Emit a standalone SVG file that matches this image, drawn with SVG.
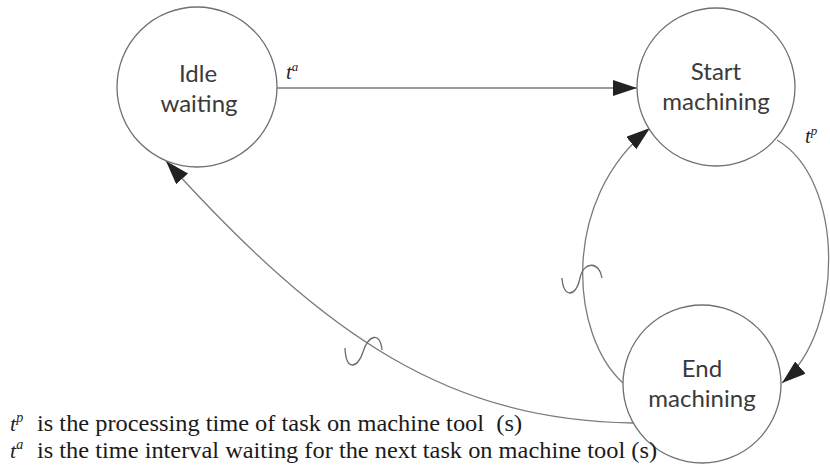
<svg xmlns="http://www.w3.org/2000/svg" width="830" height="468" viewBox="0 0 830 468">
<style>
  .node { fill: #ffffff; stroke: #707070; stroke-width: 1.3; }
  .lbl { font-family: Lato, "Open Sans", "Liberation Sans", sans-serif; font-size: 24px; fill: #3a3a3a; text-anchor: middle; }
  .conn { fill: none; stroke: #7a7a7a; stroke-width: 1.3; }
  .sq { fill: none; stroke: #6a6a6a; stroke-width: 1.3; }
  .math { font-family: "Liberation Serif", "Times New Roman", serif; font-style: italic; fill: #222; }
  .leg { font-family: "Liberation Serif", "Times New Roman", serif; font-size: 24px; fill: #1a1a1a; }
</style>
<defs>
  <marker id="arr" markerUnits="userSpaceOnUse" markerWidth="26" markerHeight="18" refX="24" refY="8" orient="auto">
    <path d="M0,0 L24,8 L0,16 Z" fill="#222"/>
  </marker>
</defs>
<rect width="830" height="468" fill="#ffffff"/>
<g id="connectors">
  <path class="conn" d="M277,88 L637,88" marker-end="url(#arr)"/>
  <path class="conn" d="M777,140 C845,180 845,330 782,383" marker-end="url(#arr)"/>
  <path class="conn" d="M623,383 C570,335 560,200 650,128" marker-end="url(#arr)"/>
  <path class="conn" d="M633,423 C450,420 328,340 166,161" marker-end="url(#arr)"/>
  <path class="sq" d="M345,348 C346,372 358,368 363,352 C368,336 380,330 382,350"/>
  <path class="sq" d="M562,278 C563,298 576,298 580,278 C584,260 600,262 602,278"/>
  <text class="math" x="286" y="79" font-size="21">t<tspan dy="-8" font-size="13">a</tspan></text>
  <text class="math" x="805" y="143" font-size="21">t<tspan dy="-8" font-size="13">p</tspan></text>
</g>
<g id="idle">
  <circle class="node" cx="197" cy="87" r="80"/>
  <text class="lbl" x="198" y="82">Idle</text>
  <text class="lbl" x="199" y="112">waiting</text>
</g>
<g id="start">
  <circle class="node" cx="716" cy="87" r="79"/>
  <text class="lbl" x="716" y="80">Start</text>
  <text class="lbl" x="716" y="110">machining</text>
</g>
<g id="end">
  <circle class="node" cx="702" cy="384" r="79"/>
  <text class="lbl" x="702" y="377">End</text>
  <text class="lbl" x="702" y="407">machining</text>
</g>
<g id="legend">
  <text class="math" x="10" y="431" font-size="22">t<tspan dy="-9" font-size="14">p</tspan></text>
  <text class="leg" x="37" y="431" xml:space="preserve" textLength="485" lengthAdjust="spacingAndGlyphs">is the processing time of task on machine tool  (s)</text>
  <text class="math" x="10" y="458" font-size="22">t<tspan dy="-9" font-size="14">a</tspan></text>
  <text class="leg" x="37" y="458" textLength="620" lengthAdjust="spacingAndGlyphs">is the time interval waiting for the next task on machine tool (s)</text>
</g>
</svg>
